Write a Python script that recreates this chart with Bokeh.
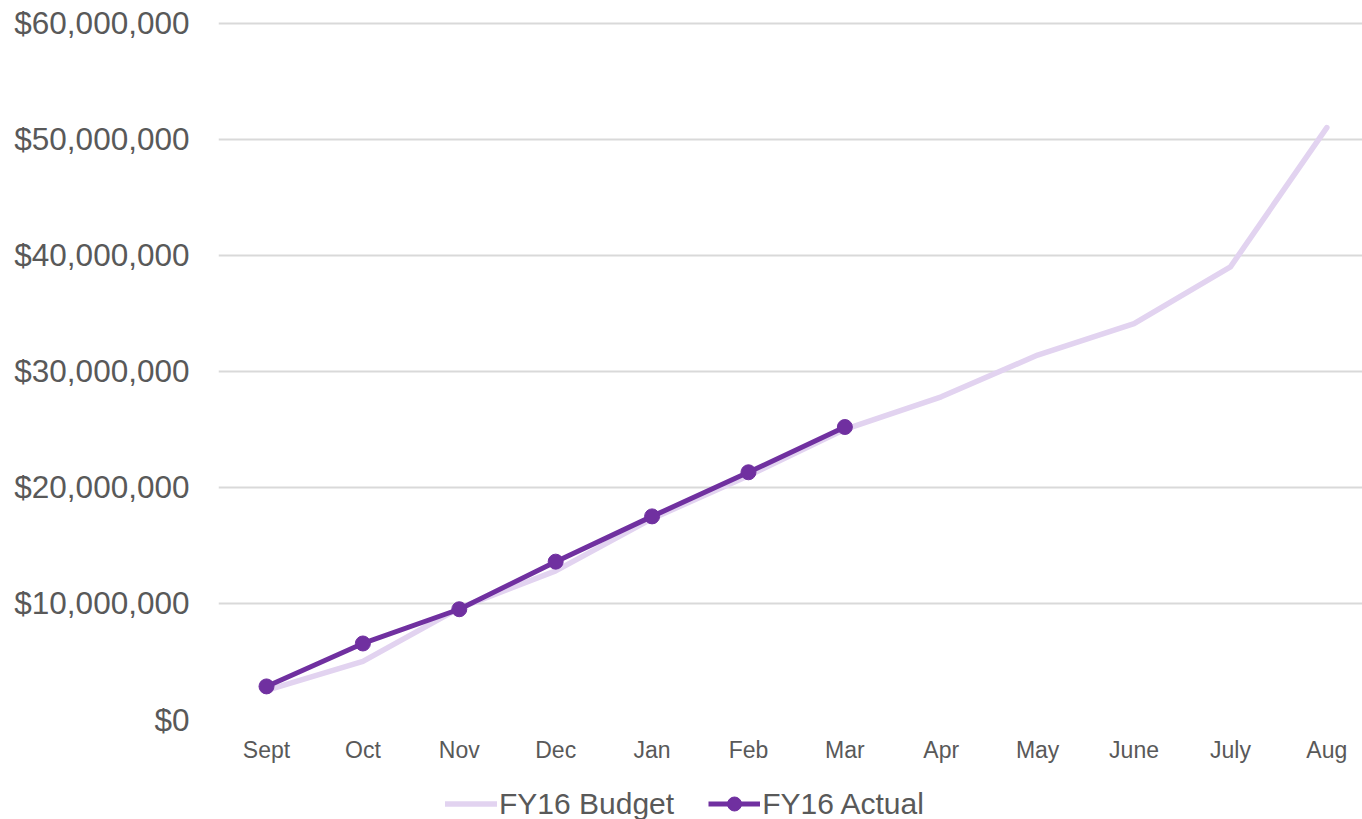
from bokeh.plotting import figure
from bokeh.layouts import column
from bokeh.models import Range1d, FixedTicker, NumeralTickFormatter, Legend, LegendItem, ColumnDataSource
from bokeh.embed import file_html
from bokeh.resources import INLINE

months = ["Sept", "Oct", "Nov", "Dec", "Jan", "Feb", "Mar", "Apr", "May", "June", "July", "Aug"]
budget = [2.5e6, 5.0e6, 9.6e6, 12.8e6, 17.3e6, 21.0e6, 25.0e6, 27.8e6, 31.4e6, 34.1e6, 39.0e6, 51.0e6]
actual = [2.85e6, 6.55e6, 9.5e6, 13.6e6, 17.5e6, 21.3e6, 25.2e6]
y_ticks = [0, 10e6, 20e6, 30e6, 40e6, 50e6, 60e6]
series_names = ["FY16 Budget", "FY16 Actual"]

xs = list(range(len(months)))
src_b = ColumnDataSource(dict(x=xs, y=budget))
src_a = ColumnDataSource(dict(x=xs[:len(actual)], y=actual))

FONT = "Liberation Sans"
GREY = "#595959"
C_BUD = "#E2D3F0"
C_ACT = "#7030A0"

p = figure(width=1362, height=780, output_backend="svg", toolbar_location=None,
           x_range=Range1d(-0.498, 11.37), y_range=Range1d(0, 61e6),
           min_border_left=218, min_border_right=0, min_border_top=11, min_border_bottom=61)
p.outline_line_color = None
p.background_fill_color = "white"
p.border_fill_color = "white"

p.line("x", "y", source=src_b, line_color=C_BUD, line_width=5.5, line_cap="round", line_join="round")
p.line("x", "y", source=src_a, line_color=C_ACT, line_width=5, line_join="round")
p.scatter("x", "y", source=src_a, size=15, fill_color=C_ACT, line_color=C_ACT)

p.xgrid.visible = False
p.ygrid.grid_line_color = "#D9D9D9"
p.ygrid.grid_line_width = 2
p.ygrid.ticker = FixedTicker(ticks=y_ticks)

p.yaxis.ticker = FixedTicker(ticks=y_ticks)
p.yaxis.formatter = NumeralTickFormatter(format="$0,0")
p.yaxis.axis_line_color = None
p.yaxis.major_tick_line_color = None
p.yaxis.minor_tick_line_color = None
p.yaxis.major_tick_out = 0
p.yaxis.major_tick_in = 0
p.yaxis.major_label_standoff = 29
p.yaxis.major_label_text_font = FONT
p.yaxis.major_label_text_font_size = "31.5px"
p.yaxis.major_label_text_color = GREY

p.xaxis.ticker = FixedTicker(ticks=xs)
p.xaxis.major_label_overrides = {i: m for i, m in enumerate(months)}
p.xaxis.axis_line_color = None
p.xaxis.major_tick_line_color = None
p.xaxis.minor_tick_line_color = None
p.xaxis.major_tick_out = 0
p.xaxis.major_tick_in = 0
p.xaxis.major_label_standoff = 17
p.xaxis.major_label_text_font = FONT
p.xaxis.major_label_text_font_size = "23px"
p.xaxis.major_label_text_color = GREY

# legend strip below the chart (same series, drawn outside this strip's visible range)
lg = figure(width=1362, height=39, output_backend="svg", toolbar_location=None,
            x_range=Range1d(0, 1), y_range=Range1d(-2, -1),
            x_axis_location=None, y_axis_location=None,
            min_border_left=0, min_border_right=0, min_border_top=0, min_border_bottom=0)
lg.outline_line_color = None
lg.grid.visible = False
lb = lg.line("x", "y", source=src_b, line_color=C_BUD, line_width=5.5, line_cap="round")
la = lg.line("x", "y", source=src_a, line_color=C_ACT, line_width=5)
lm = lg.scatter("x", "y", source=src_a, size=15, fill_color=C_ACT, line_color=C_ACT)

legend = Legend(items=[LegendItem(label=series_names[0], renderers=[lb]),
                       LegendItem(label=series_names[1], renderers=[la, lm])],
                orientation="horizontal", location=(227, -2),
                label_text_font=FONT, label_text_font_size="30px", label_text_color=GREY,
                glyph_width=52, glyph_height=35, label_standoff=2, spacing=34,
                padding=0, margin=0, border_line_color=None, background_fill_alpha=0,
                label_height=30)
lg.add_layout(legend, "center")

layout = column(p, lg, spacing=0)
open("out.html", "w").write(file_html(layout, INLINE))
